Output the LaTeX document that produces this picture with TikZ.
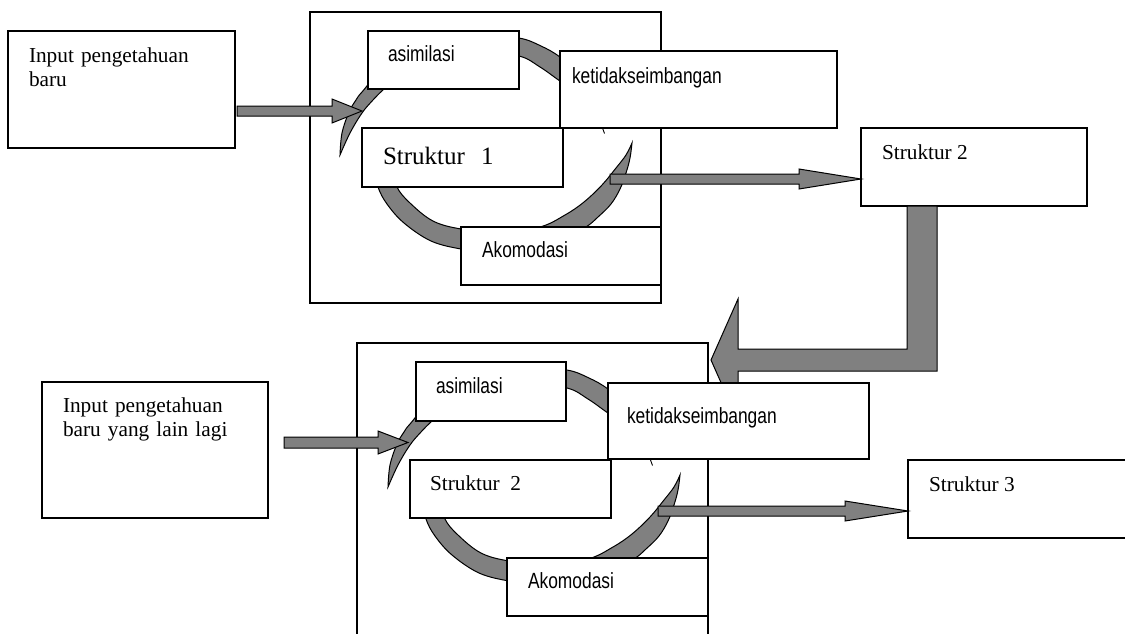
\documentclass[tikz,border=0pt]{standalone}
\usepackage{fontspec}
\setmainfont{Liberation Serif}
\newfontfamily\labelsans{Liberation Sans}
\usetikzlibrary{calc,fit}

\definecolor{bandgray}{RGB}{128,128,128}

\newcommand{\serifbig}{\fontsize{25}{29}\selectfont}
\newcommand{\serifmid}{\fontsize{21.3}{24.5}\selectfont}
\newcommand{\narrowlabel}[1]{\scalebox{0.79}[1]{\labelsans\fontsize{22}{26}\selectfont #1}}

\tikzset{
  frame/.style={draw=black, line width=1.2pt},
  box/.style={draw=black, line width=1.2pt, fill=white, inner sep=0pt, outer sep=0pt},
  band/.style={draw=black, line width=1pt, fill=bandgray},
  blk/.style={draw=black, line width=1pt, fill=bandgray},
  lbl/.style={anchor=base west, inner sep=0pt, outer sep=0pt},
}

% rectangle node spanning two corners
\newcommand{\boxnode}[5]{\node[box, fit={(#2,#3) (#4,#5)}] (#1) {};}

% horizontal block arrow: from, to, half shaft, half head, head length
\newcommand{\blockarrow}[5]{%
  \filldraw[blk] let \p1=(#1), \p2=(#2) in
    (\x1,\y2+#3) -- (\x2-#5,\y2+#3) -- (\x2-#5,\y2+#4) -- (\x2,\y2)
    -- (\x2-#5,\y2-#4) -- (\x2-#5,\y2-#3) -- (\x1,\y2-#3) -- cycle;}

% the two tapered bands of the assimilation / accommodation cycle
\newcommand{\cyclering}{%
  \filldraw[band]
    plot[smooth, tension=0.6] coordinates {(340,155) (342,133) (349,112) (356,100) (362,92)
      (385,68) (430,45) (480,35) (519,38) (541,46) (560,57) (585,78) (600,100)}
    -- plot[smooth, tension=0.6] coordinates {(588,104) (575,90) (560,81) (540,67) (519,56)
      (480,52) (430,62) (395,80) (384,89) (373,100) (362,113) (350,133) (340,155)}
    -- cycle;
  \filldraw[band]
    plot[smooth, tension=0.6] coordinates {(632,143) (630,158) (626,173) (620,189) (611,204)
      (598,217) (586,227) (560,242) (520,251) (485,251) (461,249) (431,241) (404,223)
      (387,204) (378,187) (373,165) (373,145)}
    -- plot[smooth, tension=0.6] coordinates {(393,145) (394,168) (397,187) (410,203)
      (433,221) (461,229) (500,233) (540,227) (565,215) (584,202) (602,185) (616,168)
      (626,155) (632,143)}
    -- cycle;}

\begin{document}
\begin{tikzpicture}[x=1pt, y=-1pt]
\useasboundingbox (0,0) rectangle (1125,633);
\clip (0,0) rectangle (1125,633);

% outer frames of the two cycles
\draw[frame] (310,12) rectangle (661,303);
\draw[frame] (357,343) rectangle (708,650);

% cycle bands
\cyclering
\begin{scope}[shift={(48,332)}]
  \cyclering
\end{scope}

% boxes of the first cycle
\boxnode{in1}{8}{31}{235}{148}
\boxnode{asim1}{368}{31}{519}{89}
\boxnode{ket1}{560}{51}{837}{128}
\boxnode{str1}{362}{128}{563}{187}
\boxnode{ako1}{461}{227}{661}{285}
\boxnode{s2}{861}{128}{1087}{206}

% bent arrow from Struktur 2 down to the second cycle
\coordinate (Lstart) at ([xshift=46pt]s2.south west);
\coordinate (Ltip) at (711,360);
\filldraw[blk] let \p1=(Lstart), \p2=(Ltip) in
  (\x1,\y1) -- (\x1,\y2+11pt) -- (\x2+27pt,\y2+11pt) -- (\x2+27pt,\y2+61pt) -- (\x2,\y2)
  -- (\x2+27pt,\y2-61pt) -- (\x2+27pt,\y2-11pt) -- (\x1+30pt,\y2-11pt) -- (\x1+30pt,\y1) -- cycle;

% boxes of the second cycle
\boxnode{in2}{42}{382}{268}{518}
\boxnode{asim2}{416}{362}{566}{421}
\boxnode{ket2}{608}{383}{869}{459}
\boxnode{str2}{410}{460}{611}{518}
\boxnode{ako2}{507}{558}{708}{616}
\boxnode{s3}{908}{460}{1140}{538}

% hidden arrow tips peeking out below the disequilibrium boxes
\draw[line width=0.9pt] (602.5,128) -- (604.5,133.5);
\draw[line width=0.9pt] (650.5,460) -- (652.5,465.5);

% block arrows
\coordinate (ia1t) at (362,111);
\coordinate (ia1s) at ($(in1.east |- ia1t)+(2,0)$);
\blockarrow{ia1s}{ia1t}{5pt}{12pt}{30pt}

\coordinate (ra1s) at (610,179);
\coordinate (ra1t) at (s2.west |- ra1s);
\blockarrow{ra1s}{ra1t}{5pt}{10pt}{62pt}

\coordinate (ia2t) at (408,442.5);
\coordinate (ia2s) at ($(in2.east |- ia2t)+(16,0)$);
\blockarrow{ia2s}{ia2t}{5.5pt}{11.5pt}{30pt}

\coordinate (ra2s) at (658,511);
\coordinate (ra2t) at (s3.west |- ra2s);
\blockarrow{ra2s}{ra2t}{5pt}{10pt}{63pt}

% texts
\node[lbl, font=\serifmid, text width=220pt, align=left] (tin1) at (29,62) {Input pengetahuan\\baru};
\node[lbl] (tasim1) at (388,61) {\narrowlabel{asimilasi}};
\node[lbl] (tket1) at (572,83) {\narrowlabel{ketidakseimbangan}};
\node[lbl, font=\serifbig] (tstr1) at (383,164) {Struktur\hspace{0.65em}1};
\node[lbl] (tako1) at (482,257) {\narrowlabel{Akomodasi}};
\node[lbl, font=\serifmid] (ts2) at (882,159) {Struktur 2};

\node[lbl, font=\serifmid, text width=220pt, align=left] (tin2) at (63,412) {Input pengetahuan\\baru yang lain lagi};
\node[lbl] (tasim2) at (436,393) {\narrowlabel{asimilasi}};
\node[lbl] (tket2) at (627,423) {\narrowlabel{ketidakseimbangan}};
\node[lbl, font=\serifmid] (tstr2) at (430,490) {Struktur\hspace{0.5em}2};
\node[lbl] (tako2) at (528,588) {\narrowlabel{Akomodasi}};
\node[lbl, font=\serifmid] (ts3) at (929,491) {Struktur 3};
\end{tikzpicture}
\end{document}
